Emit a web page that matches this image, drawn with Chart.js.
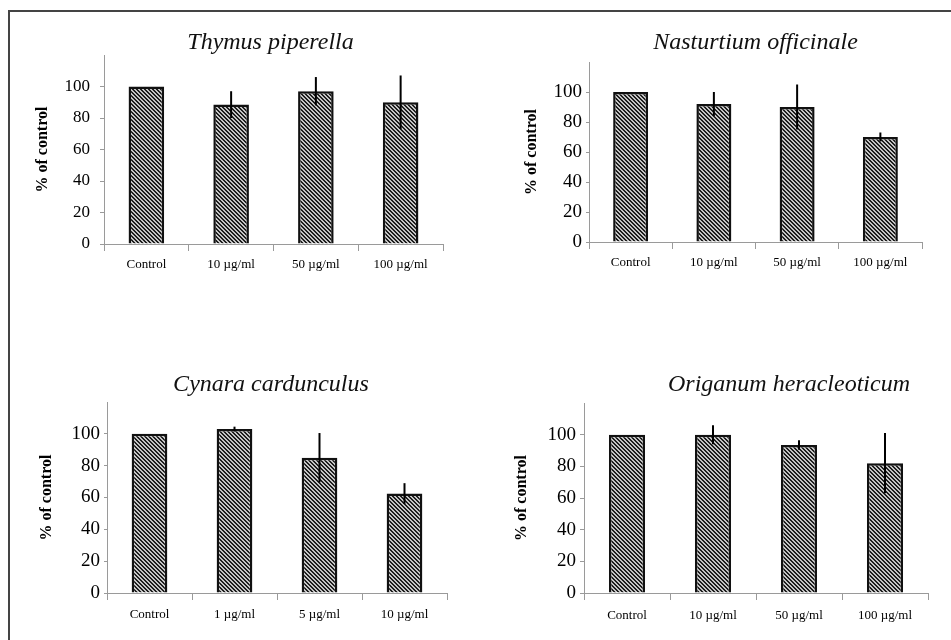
<!DOCTYPE html>
<html>
<head>
<meta charset="utf-8">
<script src="https://cdn.jsdelivr.net/npm/chart.js@4.4.0/dist/chart.umd.min.js"></script>
<style>
  body { margin: 0; background: #fff; width: 951px; height: 640px; overflow: hidden; position: relative; }
  #frame { position: absolute; left: 8px; top: 10px; width: 943px; height: 630px;
           border-top: 2px solid #444; border-left: 2px solid #444; }
  canvas { position: absolute; }
</style>
</head>
<body>
<div id="frame"></div>
<canvas id="c1" width="429" height="259" style="left:24px;top:25px"></canvas>
<canvas id="c2" width="420" height="255" style="left:512px;top:27px"></canvas>
<canvas id="c3" width="430" height="266" style="left:27px;top:367px"></canvas>
<canvas id="c4" width="432" height="265" style="left:506px;top:368px"></canvas>
<script>
// doses
const dosesHigh = ['Control', '10 µg/ml', '50 µg/ml', '100 µg/ml'];
const dosesLow = ['Control', '1 µg/ml', '5 µg/ml', '10 µg/ml'];

// % of control, mean and error
const thymusMean = [100, 88.5, 97, 90];
const thymusErr = [0, 8.5, 9, 17];
const nasturtiumMean = [100, 92, 90, 70];
const nasturtiumErr = [0, 8, 15, 3];
const cynaraMean = [100, 103, 85, 62.5];
const cynaraErr = [0, 1.5, 15.5, 6.5];
const origanumMean = [100, 100, 93.5, 82];
const origanumErr = [0, 6, 3, 19];

const yTicks = [0, 20, 40, 60, 80, 100];

const serif = '"Liberation Serif", "Times New Roman", serif';
const axisGray = '#9a9a9a';

// hatched fill like the old excel pattern
function hatch() {
  const c = document.createElement('canvas');
  c.width = 4; c.height = 4;
  const g = c.getContext('2d');
  g.fillStyle = '#c4c4c4';
  g.fillRect(0, 0, 4, 4);
  g.fillStyle = '#1e1e1e';
  for (let y = 0; y < 4; y++) {
    for (let x = 0; x < 4; x++) {
      const d = ((x - y) % 4 + 4) % 4;
      if (d === 0 || d === 1) g.fillRect(x, y, 1, 1);
    }
  }
  return g.createPattern(c, 'repeat');
}

const errorBars = {
  id: 'errorBars',
  afterDatasetsDraw(chart, args, opts) {
    const meta = chart.getDatasetMeta(0);
    const ys = chart.scales.y;
    const vals = chart.data.datasets[0].data;
    const ctx = chart.ctx;
    ctx.save();
    ctx.strokeStyle = '#000';
    ctx.lineWidth = 2;
    meta.data.forEach((bar, i) => {
      const e = opts.errors[i];
      if (!e) return;
      ctx.beginPath();
      ctx.moveTo(bar.x, ys.getPixelForValue(vals[i] + e));
      ctx.lineTo(bar.x, ys.getPixelForValue(vals[i] - e));
      ctx.stroke();
    });
    ctx.restore();
  }
};

const panelTitle = {
  id: 'panelTitle',
  afterDraw(chart, args, opts) {
    const a = chart.chartArea;
    const ctx = chart.ctx;
    ctx.save();
    ctx.font = 'italic 24px ' + serif;
    ctx.fillStyle = '#111';
    ctx.textAlign = 'center';
    ctx.textBaseline = 'middle';
    ctx.fillText(opts.text, (a.left + a.right) / 2 + opts.dx, a.top - opts.dy);
    ctx.restore();
  }
};

function makeChart(id, cats, means, errs, title, lay) {
  return new Chart(document.getElementById(id), {
    type: 'bar',
    data: {
      labels: cats,
      datasets: [{
        data: means,
        backgroundColor: hatch(),
        borderColor: '#111',
        borderWidth: 2.5,
        barPercentage: 0.42,
        categoryPercentage: 1
      }]
    },
    options: {
      responsive: false,
      animation: false,
      layout: { padding: { top: lay.pt, right: 10, left: 0, bottom: 0 } },
      plugins: {
        legend: { display: false },
        tooltip: { enabled: false },
        errorBars: { errors: errs },
        panelTitle: { text: title, dx: lay.dx, dy: lay.dy }
      },
      scales: {
        x: {
          offset: true,
          grid: { offset: true, drawOnChartArea: false, drawTicks: true, tickLength: 7, color: axisGray },
          border: { display: true, color: axisGray, width: 1 },
          ticks: { color: '#000', font: { family: serif, size: 13 }, padding: lay.xp, maxRotation: 0, autoSkip: false },
          afterFit: s => { s.height = 40; }
        },
        y: {
          min: 0,
          max: 120,
          afterBuildTicks: s => { s.ticks = yTicks.concat([120]).map(v => ({ value: v })); },
          ticks: {
            color: '#000',
            font: { family: serif, size: lay.ts },
            padding: lay.tp,
            callback: v => (yTicks.includes(v) ? v : '')
          },
          grid: {
            drawOnChartArea: false,
            drawTicks: true,
            tickLength: lay.tl,
            color: axisGray,
            tickColor: c => (c.tick && c.tick.value === 120 ? 'rgba(0,0,0,0)' : axisGray)
          },
          border: { display: true, color: axisGray, width: 1 },
          title: {
            display: true,
            text: '% of control',
            color: '#000',
            font: { family: serif, size: 16, weight: 'bold' },
            padding: { top: lay.yt, bottom: 0 }
          },
          afterFit: s => { s.width = lay.yw; }
        }
      }
    },
    plugins: [errorBars, panelTitle]
  });
}

makeChart('c1', dosesHigh, thymusMean, thymusErr, 'Thymus piperella',
  { pt: 30, yw: 80, yt: 9, ts: 17, tp: 10, tl: 4, xp: 6, dx: -3, dy: 12 });
makeChart('c2', dosesHigh, nasturtiumMean, nasturtiumErr, 'Nasturtium officinale',
  { pt: 35, yw: 77, yt: 10, ts: 19, tp: 4, tl: 3, xp: 6, dx: 0, dy: 19 });
makeChart('c3', dosesLow, cynaraMean, cynaraErr, 'Cynara cardunculus',
  { pt: 35, yw: 80, yt: 10, ts: 19, tp: 4, tl: 3, xp: 7, dx: -6, dy: 17 });
makeChart('c4', dosesHigh, origanumMean, origanumErr, 'Origanum heracleoticum',
  { pt: 35, yw: 78, yt: 6, ts: 19, tp: 4, tl: 4, xp: 8, dx: 33, dy: 18 });
</script>
</body>
</html>
